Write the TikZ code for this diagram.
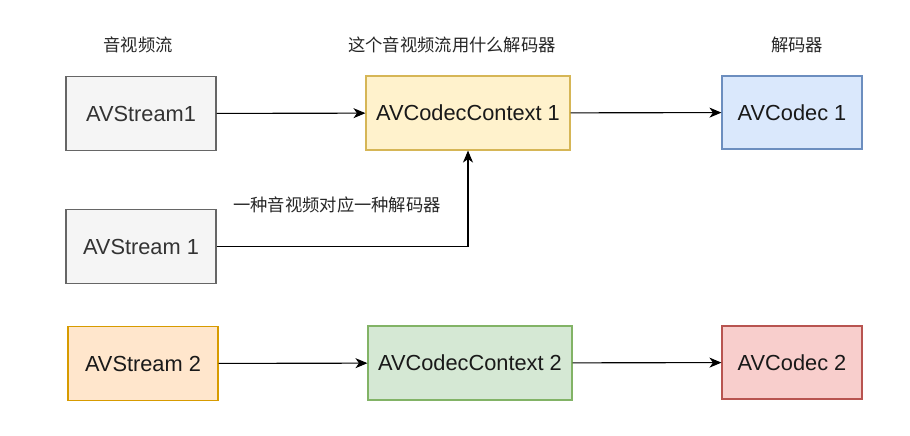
\documentclass[tikz,border=0pt]{standalone}
\usepackage{fontspec}
\setmainfont{Liberation Sans}
\newfontfamily\cjk{Noto Sans CJK SC}
\usetikzlibrary{arrows.meta}
\definecolor{grayfill}{HTML}{F5F5F5}
\definecolor{graystroke}{HTML}{666666}
\definecolor{graytext}{HTML}{333333}
\definecolor{yelfill}{HTML}{FFF2CC}
\definecolor{yelstroke}{HTML}{D6B656}
\definecolor{bluefill}{HTML}{DAE8FC}
\definecolor{bluestroke}{HTML}{6C8EBF}
\definecolor{orfill}{HTML}{FFE6CC}
\definecolor{orstroke}{HTML}{D79B00}
\definecolor{grfill}{HTML}{D5E8D4}
\definecolor{grstroke}{HTML}{82B366}
\definecolor{redfill}{HTML}{F8CECC}
\definecolor{redstroke}{HTML}{B85450}
\begin{document}
\begin{tikzpicture}[x=1pt,y=-1pt,
  box/.style={draw,line width=1.1pt,minimum height=74pt,inner sep=0pt,font=\fontsize{21.8}{25}\selectfont,text=black!90},
  graybox/.style={box,fill=grayfill,draw=graystroke,text=graytext},
  lbl/.style={font=\cjk\fontsize{17.3}{20}\selectfont,text=black!85,inner sep=0pt},
  arr/.style={line width=1.1pt,-{Stealth[length=12pt,width=10pt,inset=3.5pt]}}]
\useasboundingbox (0,0) rectangle (910,436);
\node[graybox,minimum width=150pt] (s1) at (141,113.5) {AVStream1};
\node[box,fill=yelfill,draw=yelstroke,minimum width=204pt] (c1) at (468,113) {AVCodecContext 1};
\node[box,fill=bluefill,draw=bluestroke,minimum width=140pt,minimum height=73pt] (d1) at (792,112.5) {AVCodec 1};
\node[graybox,minimum width=150pt] (s1b) at (141,246.5) {AVStream 1};
\node[box,fill=orfill,draw=orstroke,minimum width=150pt] (s2) at (143,363.5) {AVStream 2};
\node[box,fill=grfill,draw=grstroke,minimum width=204pt] (c2) at (470,363) {AVCodecContext 2};
\node[box,fill=redfill,draw=redstroke,minimum width=140pt,minimum height=73pt] (d2) at (792,362.5) {AVCodec 2};
\node[lbl] (t1) at (138,45) {音视频流};
\node[lbl] (t2) at (452,45) {这个音视频流用什么解码器};
\node[lbl] (t3) at (797,45) {解码器};
\node[lbl] (t4) at (337,205) {一种音视频对应一种解码器};
\draw[arr] (s1) -- (c1);
\draw[arr] (c1) -- (d1);
\draw[arr] (s1b.east) -| (c1.south);
\draw[arr] (s2) -- (c2);
\draw[arr] (c2) -- (d2);
\end{tikzpicture}
\end{document}
